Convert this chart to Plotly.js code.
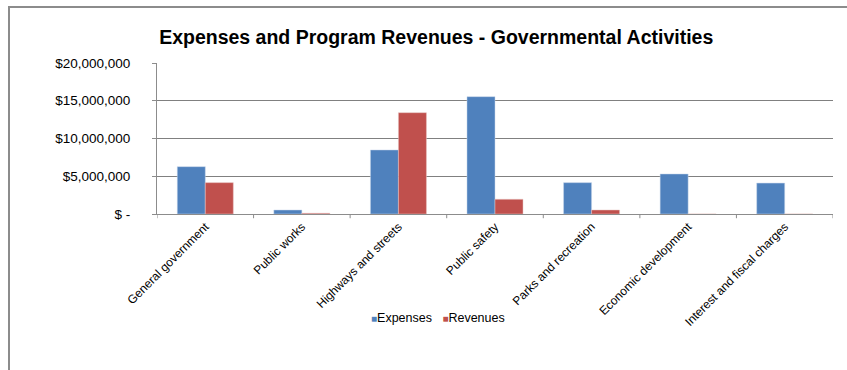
<!DOCTYPE html>
<html>
<head>
<meta charset="utf-8">
<script src="https://cdn.plot.ly/plotly-3.0.1.min.js"></script>
<style>
  html, body { margin: 0; padding: 0; background: #ffffff; }
  #wrap { position: relative; width: 847px; height: 370px; overflow: hidden; }
  #frame { position: absolute; left: 8px; top: 6px; width: 900px; height: 400px;
           border-top: 2px solid #8c8c8c; border-left: 2px solid #8c8c8c; box-sizing: border-box; }
  #chart { position: absolute; left: 0; top: 0; width: 847px; height: 370px; }
</style>
</head>
<body>
<div id="wrap">
  <div id="frame"></div>
  <div id="chart"></div>
</div>
<script>
// Governmental activities: expenses vs. program revenues by function
const categories = [
  "General government",
  "Public works",
  "Highways and streets",
  "Public safety",
  "Parks and recreation",
  "Economic development",
  "Interest and fiscal charges"
];
const seriesNames = ["Expenses", "Revenues"];
const expenses = [6270000, 530000, 8480000, 15540000, 4150000, 5300000, 4100000];
const revenues = [4150000, 100000, 13420000, 1950000, 530000, 0, 0];

const yTickVals = [0, 5000000, 10000000, 15000000, 20000000];
const yTickText = ["$ -", "$5,000,000", "$10,000,000", "$15,000,000", "$20,000,000"];

const colors = ["#4F81BD", "#C0504D"];
const FONT = "Liberation Sans, Arial, sans-serif";

const traces = [
  {
    type: "bar", name: seriesNames[0], x: categories, y: expenses,
    marker: { color: colors[0], line: { color: "#c8d6ea", width: 0.5 } }
  },
  {
    type: "bar", name: seriesNames[1], x: categories, y: revenues,
    marker: { color: colors[1], line: { color: "#e6c4c3", width: 0.5 } }
  }
];

// Compact legend row: small coloured squares followed by series names
const legendText = seriesNames.map(function (n, i) {
  return '<span style="color:' + colors[i] + ';font-size:10px">\u25A0</span>' + n;
}).join('&nbsp;&nbsp;&nbsp;');

const layout = {
  width: 847, height: 370,
  paper_bgcolor: "rgba(0,0,0,0)",
  plot_bgcolor: "rgba(0,0,0,0)",
  margin: { l: 157, r: 14, t: 63, b: 156, pad: 0 },
  font: { family: FONT, color: "#000000" },
  title: {
    text: "<b>Expenses and Program Revenues - Governmental Activities</b>",
    font: { size: 19.5, family: FONT, color: "#000000" },
    x: 0.515, xanchor: "center", y: 0.9, yanchor: "middle"
  },
  barmode: "group",
  bargap: 0.42,
  bargroupgap: 0,
  xaxis: {
    tickangle: -45,
    tickfont: { size: 12, family: FONT },
    showline: true, linecolor: "#8c8c8c", linewidth: 1,
    ticks: "", showgrid: false, zeroline: false,
    range: [-0.5, categories.length - 0.5],
    fixedrange: true
  },
  yaxis: {
    range: [0, 20000000],
    tickvals: yTickVals, ticktext: yTickText,
    tickfont: { size: 13.5, family: FONT },
    showline: true, linecolor: "#8c8c8c", linewidth: 1,
    ticks: "outside", ticklen: 4, tickcolor: "#8c8c8c",
    showgrid: true, gridcolor: "#808080", gridwidth: 1.3,
    zeroline: false, ticklabelstandoff: 19,
    fixedrange: true
  },
  showlegend: false,
  annotations: [{
    xref: "paper", yref: "paper", x: 0.415, y: -0.69,
    xanchor: "center", yanchor: "middle", showarrow: false,
    text: legendText, font: { size: 12.5, family: FONT, color: "#000000" }
  }],
  shapes: categories.concat([""]).map(function (_, i) {
    return {
      type: "line", xref: "x", yref: "paper",
      x0: i - 0.5, x1: i - 0.5, y0: 0, y1: -0.028,
      line: { color: "#8c8c8c", width: 1 }
    };
  })
};

Plotly.newPlot("chart", traces, layout, { displayModeBar: false, staticPlot: true });
</script>
</body>
</html>
